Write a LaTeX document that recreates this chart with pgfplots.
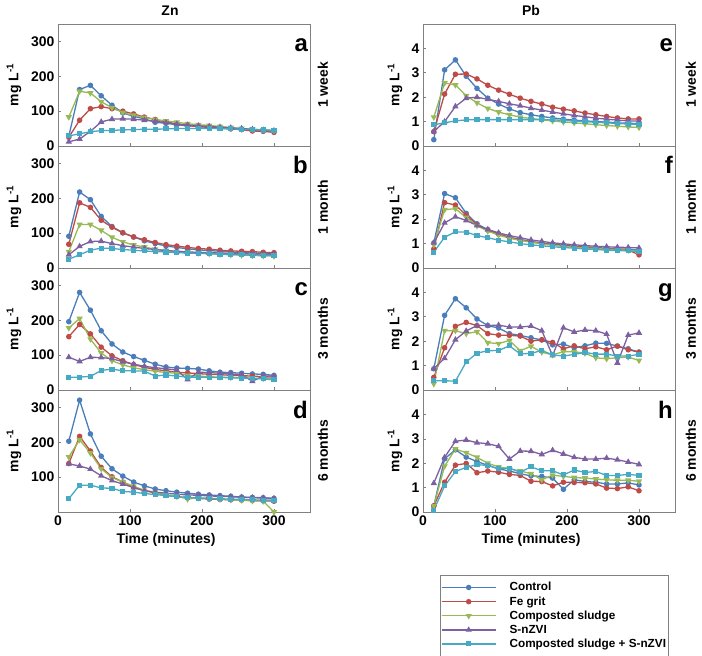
\documentclass[border=0pt]{standalone}
\usepackage{fontspec}
\setmainfont{Liberation Sans}
\usepackage{pgfplots}
\usepackage{pgfplotstable}
\pgfplotsset{compat=1.18}
\definecolor{cblue}{HTML}{4A7EBB}
\definecolor{cred}{HTML}{BE4B48}
\definecolor{cgreen}{HTML}{98B954}
\definecolor{cpurple}{HTML}{7D60A0}
\definecolor{ccyan}{HTML}{46AAC5}
\definecolor{frame}{HTML}{808080}

% Zn, mg/L
\pgfplotstableread{
t c f s n b
15 28 25 83 12 29
30 162 74 157 20 35
45 174 107 152 42 41
60 144 113 127 69 44
75 117 107 110 77 45
90 95 100 96 78 46
105 85 92 88 77 47
120 78 83 82 74 48
135 68 76 76 71 48
150 65 69 72 67 49
165 61 63 68 63 50
180 58 59 64 60 50
195 56 56 61 58 50
210 54 53 59 56 50
225 52 51 56 54 50
240 50 49 53 52 49
255 48 47 50 50 48
270 46 43 48 48 47
285 44 42 46 46 46
300 42 39 44 44 45
}\ZnA
\pgfplotstableread{
t c f s n b
15 91 68 47 38 25
30 218 187 125 62 38
45 196 174 125 76 51
60 148 137 108 77 57
75 119 117 88 70 56
90 101 101 75 64 53
105 89 89 66 60 51
120 78 81 60 56 49
135 70 73 54 53 47
150 63 67 50 50 46
165 59 63 47 48 44
180 55 59 45 46 43
195 52 56 43 45 42
210 50 54 41 44 41
225 48 51 39 43 40
240 46 49 38 42 39
255 44 48 37 41 38
270 43 47 36 40 37
285 42 45 35 39 37
300 41 44 34 39 36
}\ZnB
\pgfplotstableread{
t c f s n b
15 196 153 178 94 36
30 280 188 205 82 37
45 229 161 146 94 39
60 170 123 106 93 56
75 132 98 84 90 60
90 109 84 72 81 55
105 96 73 64 74 55
120 85 65 58 68 54
135 74 59 54 64 40
150 66 55 50 61 43
165 63 51 48 57 40
180 62 49 42 30 37
195 60 47 40 51 37
210 55 45 38 50 36
225 51 44 37 48 36
240 50 42 36 46 35
255 48 41 35 44 34
270 46 40 34 25 33
285 45 38 33 40 32
300 42 37 32 40 29
}\ZnC
\pgfplotstableread{
t c f s n b
15 203 139 158 138 38
30 321 217 207 132 77
45 224 175 169 123 77
60 160 128 124 104 69
75 124 101 99 90 68
90 103 86 86 80 59
105 86 71 74 70 57
120 75 61 62 61 53
135 66 55 56 57 50
150 61 48 49 54 47
165 57 44 46 51 44
180 54 41 37 49 42
195 51 39 41 48 40
210 49 37 39 46 39
225 47 36 37 45 38
240 45 35 35 44 37
255 43 34 34 42 36
270 42 33 32 41 35
285 41 32 31 40 34
300 39 31 0 39 34
}\ZnD

% Pb, mg/L
\pgfplotstableread{
t c f s n b
15 0.26 0.59 1.18 0.59 0.87
30 3.12 2.13 2.58 1.00 0.95
45 3.53 2.94 2.50 1.62 1.03
60 2.86 2.95 2.06 1.96 1.07
75 2.36 2.75 1.77 2.00 1.08
90 1.96 2.49 1.54 1.91 1.08
105 1.72 2.29 1.39 1.83 1.08
120 1.52 2.12 1.28 1.73 1.08
135 1.37 1.96 1.18 1.65 1.08
150 1.28 1.83 1.13 1.55 1.08
165 1.21 1.72 1.07 1.47 1.08
180 1.15 1.59 1.03 1.39 1.07
195 1.10 1.51 0.98 1.32 1.05
210 1.06 1.44 0.95 1.25 1.02
225 1.03 1.35 0.91 1.20 1.00
240 1.00 1.28 0.87 1.14 0.97
255 0.98 1.21 0.84 1.10 0.95
270 0.95 1.15 0.81 1.06 0.92
285 0.93 1.11 0.78 1.03 0.90
300 0.92 1.11 0.76 1.02 0.89
}\PbE
\pgfplotstableread{
t c f s n b
15 1.03 0.78 0.95 1.03 0.65
30 3.05 2.68 2.39 1.85 1.26
45 2.88 2.58 2.43 2.10 1.48
60 2.24 2.17 2.07 1.95 1.47
75 1.81 1.77 1.73 1.74 1.33
90 1.57 1.55 1.51 1.58 1.24
105 1.40 1.39 1.35 1.44 1.14
120 1.26 1.25 1.22 1.33 1.07
135 1.17 1.15 1.13 1.24 1.00
150 1.09 1.07 1.06 1.15 0.95
165 1.02 1.00 0.99 1.09 0.91
180 0.98 0.95 0.93 1.03 0.87
195 0.93 0.91 0.89 0.99 0.84
210 0.89 0.88 0.85 0.95 0.81
225 0.87 0.85 0.82 0.92 0.78
240 0.84 0.81 0.80 0.89 0.76
255 0.81 0.78 0.77 0.87 0.73
270 0.78 0.76 0.74 0.85 0.71
285 0.77 0.74 0.73 0.84 0.70
300 0.73 0.54 0.70 0.82 0.67
}\PbF
\pgfplotstableread{
t c f s n b
15 0.87 0.52 0.25 0.87 0.38
30 3.06 1.73 2.43 1.30 0.38
45 3.74 2.61 2.43 2.06 0.36
60 3.37 2.77 2.31 2.42 1.15
75 2.91 2.64 2.39 2.64 1.51
90 2.64 2.31 1.94 2.64 1.61
105 2.54 2.25 1.90 2.66 1.62
120 2.31 2.24 2.03 2.58 1.81
135 2.24 2.21 1.61 2.58 1.48
150 2.14 2.00 1.79 2.62 1.50
165 2.05 2.06 1.55 2.43 1.62
180 1.85 1.95 1.44 1.41 1.44
195 1.88 1.69 1.57 2.55 1.39
210 1.73 1.81 1.57 2.38 1.46
225 1.81 1.69 1.51 2.46 1.54
240 1.92 1.77 1.32 2.43 1.47
255 1.91 1.65 1.28 2.29 1.47
270 1.80 1.80 1.32 1.11 1.39
285 1.69 1.65 1.35 2.25 1.39
300 1.55 1.55 1.21 2.34 1.46
}\PbG
\pgfplotstableread{
t c f s n b
15 0.25 0.25 0.25 1.18 0.07
30 2.18 1.22 1.88 2.24 1.07
45 2.55 1.92 2.58 2.90 1.66
60 2.25 1.99 2.43 2.95 1.83
75 2.07 1.61 2.24 2.84 1.94
90 1.91 1.68 2.00 2.80 1.91
105 1.77 1.63 1.85 2.69 1.77
120 1.68 1.54 1.77 2.17 1.80
135 1.57 1.50 1.68 2.50 1.63
150 1.48 1.26 1.57 2.49 1.85
165 1.46 1.25 1.32 2.36 1.69
180 1.39 1.07 1.51 2.53 1.69
195 0.93 1.22 1.46 2.38 1.52
210 1.32 1.21 1.41 2.24 1.72
225 1.25 1.20 1.39 2.17 1.62
240 1.22 1.15 1.35 2.17 1.66
255 1.15 0.98 1.32 2.21 1.50
270 1.15 0.96 1.30 2.14 1.50
285 1.19 1.03 1.30 2.05 1.54
300 1.11 0.87 1.26 1.95 1.50
}\PbH

\newcommand{\axfont}{\bfseries\fontsize{14}{14}\selectfont}
\pgfplotsset{
  panel/.style={
    scale only axis, width=252bp, height=122bp, anchor=south west,
    xmin=0, xmax=350, xtick={0,100,200,300},
    ytick pos=left, xtick pos=bottom, tick align=inside,
    major tick length=3bp, tick style={frame, line width=0.6bp},
    axis line style={frame, line width=0.9bp},
    ticklabel style={font=\axfont},
    /pgf/number format/assume math mode=true,
    clip=false,
  },
  zn/.style={ymin=0, ymax=350, ytick={0,100,200,300}},
  pb/.style={ymin=0, ymax=5, ytick={0,1,2,3,4}},
  sC/.style={color=cblue, mark=*, line width=1.3bp, mark size=2.1bp},
  sF/.style={color=cred, mark=*, line width=1.3bp, mark size=2.1bp},
  sS/.style={color=cgreen, mark=triangle*, line width=1.3bp, mark size=2.4bp, mark options={rotate=180}},
  sN/.style={color=cpurple, mark=triangle*, line width=1.3bp, mark size=2.4bp},
  sB/.style={color=ccyan, mark=square*, line width=1.3bp, mark size=1.9bp},
}
\tikzset{letter/.style={anchor=base east, xshift=-2bp, yshift=-28bp, inner sep=0pt,
  font=\bfseries\fontsize{24}{24}\selectfont}}

\newcommand{\five}[1]{%
  \addplot[sC] table[x=t,y=c]{#1};
  \addplot[sF] table[x=t,y=f]{#1};
  \addplot[sS] table[x=t,y=s]{#1};
  \addplot[sN] table[x=t,y=n]{#1};
  \addplot[sB] table[x=t,y=b]{#1};}

\begin{document}
\begin{tikzpicture}
\path[use as bounding box] (0bp,0bp) rectangle (702bp,656bp);

% Zn column
\begin{axis}[panel, zn, at={(58bp,510bp)}, xticklabels={}]
  \five{\ZnA}
  \node[letter] at (rel axis cs:1,1) {a};
\end{axis}
\begin{axis}[panel, zn, at={(58bp,388bp)}, xticklabels={}]
  \five{\ZnB}
  \node[letter] at (rel axis cs:1,1) {b};
\end{axis}
\begin{axis}[panel, zn, at={(58bp,266bp)}, xticklabels={}]
  \five{\ZnC}
  \node[letter] at (rel axis cs:1,1) {c};
\end{axis}
\begin{axis}[panel, zn, ytick={100,200,300}, at={(58bp,144bp)}]
  \five{\ZnD}
  \node[letter] at (rel axis cs:1,1) {d};
\end{axis}

% Pb column
\begin{axis}[panel, pb, at={(423bp,510bp)}, xticklabels={}]
  \five{\PbE}
  \node[letter] at (rel axis cs:1,1) {e};
\end{axis}
\begin{axis}[panel, pb, at={(423bp,388bp)}, xticklabels={}]
  \five{\PbF}
  \node[letter] at (rel axis cs:1,1) {f};
\end{axis}
\begin{axis}[panel, pb, at={(423bp,266bp)}, xticklabels={}]
  \five{\PbG}
  \node[letter] at (rel axis cs:1,1) {g};
\end{axis}
\begin{axis}[panel, pb, at={(423bp,144bp)},
  legend style={at={(axis description cs:0.067,-0.516)}, anchor=north west,
    draw=frame, inner xsep=1bp, inner ysep=6bp,
    font=\bfseries\fontsize{11.8}{11.8}\selectfont, row sep=1.6bp,
    nodes={inner sep=1.3bp},
    /tikz/every odd column/.append style={column sep=12bp}},
  legend cell align=left,
  legend image code/.code={\draw[mark repeat=2,mark phase=2,#1,line width=1.2bp]
    plot coordinates {(0bp,0bp) (27bp,0bp) (54bp,0bp)};}]
  \five{\PbH}
  \node[letter] at (rel axis cs:1,1) {h};
  \legend{Control,Fe grit,Composted sludge,S-nZVI,Composted sludge + S-nZVI}
\end{axis}

% texts
\node[font=\axfont] at (170bp,645bp) {Zn};
\node[font=\axfont] at (531bp,645bp) {Pb};
\foreach \yc in {571,449,327,205} {
  \node[font=\axfont, rotate=90] at (14bp,\yc bp) {mg L\textsuperscript{-1}};
  \node[font=\axfont, rotate=90] at (395bp,\yc bp) {mg L\textsuperscript{-1}};
}
\foreach \yc/\lab in {571/1 week,449/1 month,327/3 months,205/6 months} {
  \node[font=\axfont, rotate=90] at (323bp,\yc bp) {\lab};
  \node[font=\axfont, rotate=90] at (691bp,\yc bp) {\lab};
}
\node[font=\axfont] at (166bp,116bp) {Time (minutes)};
\node[font=\axfont] at (531bp,116bp) {Time (minutes)};
\end{tikzpicture}
\end{document}
